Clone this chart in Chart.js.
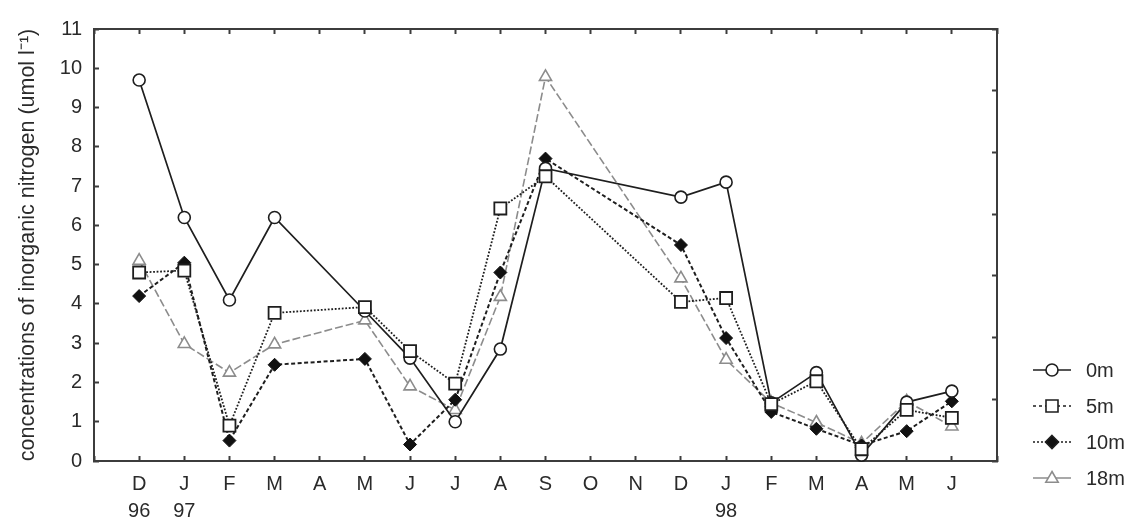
<!DOCTYPE html>
<html>
<head>
<meta charset="utf-8">
<script src="https://cdn.jsdelivr.net/npm/chart.js@4.4.1/dist/chart.umd.min.js"></script>
<style>
  html, body { margin: 0; padding: 0; background: #ffffff; }
  #wrap { width: 1131px; height: 518px; }
</style>
</head>
<body>
<div id="wrap"><canvas id="chart" width="1131" height="518"></canvas></div>
<script>
// Sampling months, Dec 1996 - Jun 1998
const monthLabels = ['D','J','F','M','A','M','J','J','A','S','O','N','D','J','F','M','A','M','J'];
const yearLabels  = ['96','97','','','','','','','','','','','','98','','','','',''];

// Inorganic nitrogen (umol l-1) by depth; null = no sample
const depth0m  = [9.7, 6.2, 4.1, 6.2, null, 3.82, 2.62, 1.0, 2.85, 7.45, null, null, 6.72, 7.1, 1.48, 2.25, 0.15, 1.5, 1.78];
const depth5m  = [4.8, 4.85, 0.9, 3.77, null, 3.92, 2.8, 1.97, 6.43, 7.25, null, null, 4.05, 4.15, 1.45, 2.03, 0.3, 1.3, 1.1];
const depth10m = [4.2, 5.05, 0.52, 2.45, null, 2.6, 0.42, 1.56, 4.8, 7.7, null, null, 5.5, 3.13, 1.25, 0.82, 0.4, 0.76, 1.52];
const depth18m = [5.1, 2.98, 2.25, 2.97, null, 3.58, 1.9, 1.3, 4.18, 9.78, null, null, 4.65, 2.58, 1.48, 0.98, 0.45, 1.52, 0.88];

const seriesNames = ['0m', '5m', '10m', '18m'];

const FONT = "'Liberation Sans', Arial, Helvetica, sans-serif";
const AXIS = '#3c3c3c';
const TEXT = '#2a2a2a';
const GREY = '#8c8c8c';

Chart.defaults.font.family = FONT;
Chart.defaults.color = TEXT;

const toPoints = vals => vals.map((v, i) => ({ x: i, y: v }));

// legend appearance per series (line dash in the key, marker)
const legendStyles = [
  { dash: [],     color: '#1e1e1e', marker: 'circle',   fill: '#ffffff', size: 6 },
  { dash: [3, 3], color: '#1e1e1e', marker: 'rect',     fill: '#ffffff', size: 6 },
  { dash: [2, 2], color: '#1e1e1e', marker: 'diamond',  fill: '#111111', size: 6.5 },
  { dash: [],     color: GREY,      marker: 'triangle', fill: '#ffffff', size: 6.5 }
];

function drawMarker(ctx, kind, x, y, r) {
  ctx.beginPath();
  if (kind === 'circle') {
    ctx.arc(x, y, r, 0, Math.PI * 2);
  } else if (kind === 'rect') {
    ctx.rect(x - r, y - r, 2 * r, 2 * r);
  } else if (kind === 'diamond') {
    ctx.moveTo(x, y - r); ctx.lineTo(x + r, y); ctx.lineTo(x, y + r); ctx.lineTo(x - r, y);
    ctx.closePath();
  } else {
    ctx.moveTo(x, y - r); ctx.lineTo(x + r * 0.95, y + r * 0.65); ctx.lineTo(x - r * 0.95, y + r * 0.65);
    ctx.closePath();
  }
  ctx.fill();
  ctx.stroke();
}

const depthLegend = {
  id: 'depthLegend',
  afterDraw(chart) {
    const { ctx, chartArea } = chart;
    const lineStart = chartArea.right + 36;
    const lineEnd = lineStart + 38;
    const textX = chartArea.right + 89;
    ctx.save();
    seriesNames.forEach((name, i) => {
      const st = legendStyles[i];
      const y = chartArea.bottom - 91 + i * 36;
      ctx.strokeStyle = st.color;
      ctx.lineWidth = 1.6;
      ctx.setLineDash(st.dash);
      ctx.beginPath();
      ctx.moveTo(lineStart, y);
      ctx.lineTo(lineEnd, y);
      ctx.stroke();
      ctx.setLineDash([]);
      ctx.fillStyle = st.fill;
      drawMarker(ctx, st.marker, (lineStart + lineEnd) / 2, y, st.size);
      ctx.fillStyle = TEXT;
      ctx.font = '20px ' + FONT;
      ctx.textAlign = 'left';
      ctx.textBaseline = 'middle';
      ctx.fillText(name, textX, y + 1);
    });
    ctx.restore();
  }
};

const frameGrid = {
  drawOnChartArea: false,
  drawTicks: true,
  tickLength: -5,
  tickWidth: 2,
  color: AXIS,
  tickColor: AXIS
};
const frameBorder = { display: true, color: AXIS, width: 2 };

new Chart(document.getElementById('chart'), {
  type: 'line',
  data: {
    datasets: [
      {
        label: seriesNames[0], data: toPoints(depth0m), order: 1,
        borderColor: '#1e1e1e', borderWidth: 1.7, borderDash: [],
        pointStyle: 'circle', pointRadius: 6, pointBackgroundColor: '#ffffff',
        pointBorderColor: '#1e1e1e', pointBorderWidth: 1.6
      },
      {
        label: seriesNames[1], data: toPoints(depth5m), order: 0,
        borderColor: '#1e1e1e', borderWidth: 1.8, borderDash: [1.8, 1.7],
        pointStyle: 'rect', pointRadius: 8.5, pointBackgroundColor: '#ffffff',
        pointBorderColor: '#1e1e1e', pointBorderWidth: 1.8
      },
      {
        label: seriesNames[2], data: toPoints(depth10m), order: 2,
        borderColor: '#1e1e1e', borderWidth: 2, borderDash: [4, 2.5],
        pointStyle: 'rectRot', pointRadius: 6.5, pointBackgroundColor: '#111111',
        pointBorderColor: '#111111', pointBorderWidth: 1
      },
      {
        label: seriesNames[3], data: toPoints(depth18m), order: 3,
        borderColor: GREY, borderWidth: 1.6, borderDash: [8, 3],
        pointStyle: 'triangle', pointRadius: 7, pointBackgroundColor: '#ffffff',
        pointBorderColor: GREY, pointBorderWidth: 1.6
      }
    ].map(ds => Object.assign(ds, { spanGaps: true, tension: 0, clip: false, fill: false }))
  },
  options: {
    responsive: false,
    animation: false,
    events: [],
    layout: { padding: 0 },
    plugins: {
      legend: { display: false },
      tooltip: { enabled: false }
    },
    scales: {
      x: {
        type: 'linear', position: 'bottom', min: -1, max: 19,
        grid: frameGrid, border: frameBorder,
        afterFit: s => { s.height = 57; },
        ticks: {
          stepSize: 1, autoSkip: false, maxRotation: 0, padding: 15,
          font: { size: 20, lineHeight: 1.35 }, color: TEXT,
          callback: v => {
            if (!Number.isInteger(v) || v < 0 || v >= monthLabels.length) return '';
            return yearLabels[v] ? [monthLabels[v], yearLabels[v]] : monthLabels[v];
          }
        }
      },
      xTop: {
        type: 'linear', position: 'top', min: -1, max: 19,
        grid: frameGrid, border: frameBorder,
        afterFit: s => { s.height = 22; },
        ticks: { stepSize: 1, display: false }
      },
      y: {
        type: 'linear', position: 'left', min: 0, max: 11,
        grid: frameGrid, border: frameBorder,
        afterFit: s => { s.width = 94; },
        ticks: { stepSize: 1, padding: 17, font: { size: 20 }, color: TEXT },
        title: {
          display: true,
          text: 'concentrations of inorganic nitrogen (umol l\u207B\u00B9)',
          font: { size: 21.5 }, color: TEXT,
          padding: { top: 15, bottom: 0 }
        }
      },
      yRight: {
        type: 'linear', position: 'right', min: 0, max: 7,
        grid: frameGrid, border: frameBorder,
        afterFit: s => { s.width = 134; },
        ticks: { stepSize: 1, display: false }
      }
    }
  },
  plugins: [depthLegend]
});
</script>
</body>
</html>
